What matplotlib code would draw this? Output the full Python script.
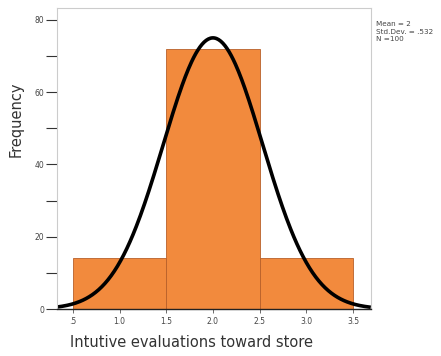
import numpy as np
import matplotlib.pyplot as plt

# histogram of evaluation scores
bin_edges = [0.5, 1.5, 2.5, 3.5]
counts = [14, 72, 14]
mean = 2.0
std_dev = 0.532
n_obs = 100

x_ticks = [0.5, 1.0, 1.5, 2.0, 2.5, 3.0, 3.5]
x_tick_labels = [".5", "1.0", "1.5", "2.0", "2.5", "3.0", "3.5"]
y_ticks = [0, 20, 40, 60, 80]

plt.rcParams['font.family'] = ['DejaVu Sans']

fig = plt.figure(figsize=(4.41, 3.56), dpi=100)
ax = fig.add_axes([0.129, 0.132, 0.712, 0.846])

widths = np.diff(bin_edges)
ax.bar(bin_edges[:-1], counts, width=widths, align='edge',
       color='#F28A3D', edgecolor='#B8602A', linewidth=0.6, zorder=1)

# fitted normal curve scaled to counts
bw = widths[0]
xs = np.linspace(0.33, 3.67, 300)
ys = n_obs * bw / (std_dev * np.sqrt(2 * np.pi)) * np.exp(-0.5 * ((xs - mean) / std_dev) ** 2)
ax.plot(xs, ys, color='black', linewidth=2.6, zorder=2)

ax.set_xlim(0.33, 3.69)
ax.set_ylim(0, 83.3)

ax.set_xticks(x_ticks)
ax.set_xticklabels(x_tick_labels, fontsize=5.5, color='#444444')
ax.set_yticks(y_ticks)
ax.set_yticks(np.arange(10, 80, 20), minor=True)
ax.set_yticklabels([str(v) for v in y_ticks], fontsize=5.5, color='#444444')
ax.tick_params(axis='y', which='both', length=8, width=0.8, color='#333333', pad=1)
ax.tick_params(axis='x', length=3, width=0.6, color='#555555', pad=3)

for side in ['top', 'right', 'left']:
    ax.spines[side].set_color('#cccccc')
    ax.spines[side].set_linewidth(0.8)
ax.spines['bottom'].set_color('#222222')
ax.spines['bottom'].set_linewidth(1.0)

ax.set_xlabel("Intutive evaluations toward store", fontsize=10.5, color='#333333')
ax.xaxis.set_label_coords(0.041, -0.085)
ax.xaxis.label.set_horizontalalignment('left')
ax.set_ylabel("Frequency", fontsize=10.5, color='#333333')
ax.yaxis.set_label_coords(-0.105, 0.63)

fig.text(0.852, 0.94, "Mean = 2\nStd.Dev. = .532\nN =100", fontsize=5.2,
         color='#444444', va='top', ha='left', linespacing=1.3)

fig.savefig('out.png', dpi=100)
